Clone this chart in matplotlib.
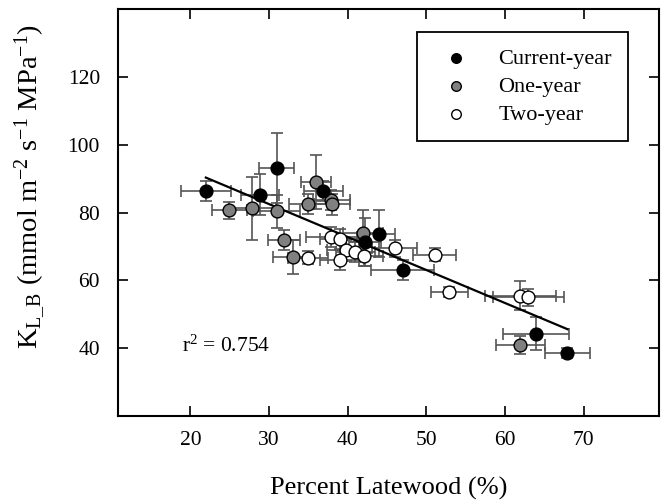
import matplotlib
matplotlib.use("Agg")
import matplotlib.pyplot as plt
import numpy as np

plt.rcParams['font.family'] = ['Liberation Serif', 'DejaVu Serif']
plt.rcParams['mathtext.fontset'] = 'custom'
plt.rcParams['mathtext.rm'] = 'Liberation Serif'
plt.rcParams['mathtext.it'] = 'Liberation Serif:italic'

# Current-year
cur_x = [21.97, 30.97, 28.85, 36.9, 44.0, 42.2, 47.0, 64.0, 67.96]
cur_y = [86.35, 93.1, 85.3, 86.3, 73.8, 71.3, 63.1, 44.25, 38.6]
cur_xerr = [3.2, 2.2, 2.4, 2.5, 2.0, 2.0, 4.0, 4.2, 2.9]
cur_yerr = [3.0, 10.3, 6.0, 3.0, 7.0, 7.0, 3.0, 4.8, 1.5]

# One-year
one_x = [24.96, 27.9, 30.97, 31.9, 33.0, 35.96, 35.0, 37.95, 38.0, 41.96, 61.96]
one_y = [80.6, 81.2, 80.3, 71.8, 66.9, 89.0, 82.6, 83.6, 82.4, 73.95, 41.0]
one_xerr = [2.2, 3.0, 3.0, 2.0, 2.5, 1.9, 2.5, 2.3, 2.3, 2.5, 3.1]
one_yerr = [2.4, 9.2, 5.0, 3.0, 4.9, 7.9, 3.0, 3.0, 3.0, 6.9, 2.7]

# Two-year
two_x = [34.98, 37.95, 39.0, 39.85, 41.0, 39.0, 42.05, 45.98, 51.05, 52.95, 61.96, 63.0]
two_y = [66.7, 72.8, 72.1, 68.8, 68.3, 65.9, 67.1, 69.5, 67.6, 56.5, 55.5, 55.05]
two_xerr = [2.5, 3.2, 2.5, 2.5, 2.5, 2.5, 2.5, 2.9, 2.75, 2.3, 4.5, 4.5]
two_yerr = [2.0, 3.0, 3.0, 3.0, 3.0, 3.0, 3.0, 2.5, 2.0, 1.5, 4.2, 2.5]

# Regression
fit_intercept = 111.65
fit_slope = -0.972
r2_label = "r$^2$ = 0.754"

fig = plt.figure(figsize=(6.61, 5.0), dpi=100)
ax = fig.add_axes([118/661, 84/500, 541/661, 407/500])

ekw = dict(fmt='none', ecolor='#555555', elinewidth=1.2, capsize=4.5, capthick=1.2, zorder=2)
for xs, ys, xe, ye in [(cur_x, cur_y, cur_xerr, cur_yerr), (one_x, one_y, one_xerr, one_yerr),
                       (two_x, two_y, two_xerr, two_yerr)]:
    ax.errorbar(xs, ys, xerr=xe, yerr=ye, **ekw)

allx = np.array(cur_x + one_x + two_x)
lx = np.array([allx.min(), allx.max()])
ax.plot(lx, fit_intercept + fit_slope * lx, color='black', lw=1.6, zorder=3)

mk = dict(marker='o', s=85, edgecolors='black', linewidths=1.0, zorder=4)
ax.scatter(two_x, two_y, color='white', label='Two-year', **mk)
ax.scatter(one_x, one_y, color='#808080', label='One-year', **mk)
ax.scatter(cur_x, cur_y, color='black', label='Current-year', **mk)

ax.set_xlim(10.8, 79.6)
ax.set_ylim(20, 140)
ax.set_xticks([20, 30, 40, 50, 60, 70])
ax.set_yticks([40, 60, 80, 100, 120])
ax.tick_params(direction='in', length=7, width=1.2, labelsize=15.5, top=True, right=True)
ax.tick_params(axis='x', pad=11)
ax.tick_params(axis='y', pad=13)
for s in ax.spines.values():
    s.set_linewidth(1.5)

ax.set_xlabel('Percent Latewood (%)', fontsize=19)
ax.xaxis.set_label_coords(0.5, -0.15)
ax.set_ylabel(r'K$_{\mathrm{L\_B}}$ (mmol m$^{-2}$ s$^{-1}$ MPa$^{-1}$)', fontsize=20.5)
ax.yaxis.set_label_coords(-0.129, 0.565)

ax.text(19.0, 40.5, r2_label, fontsize=15.5, va='center', ha='left')

h, l = ax.get_legend_handles_labels()
order = [2, 1, 0]
leg = ax.legend([h[i] for i in order], [l[i] for i in order], loc='upper left',
                bbox_to_anchor=((417-118)/541, (416-31.7)/407), fontsize=16,
                frameon=True, fancybox=False, edgecolor='black', framealpha=1,
                borderpad=0.75, handletextpad=0.9, labelspacing=0.33, markerscale=0.75,
                borderaxespad=0)
leg.get_frame().set_linewidth(1.3)

fig.savefig('out.png', dpi=100)
